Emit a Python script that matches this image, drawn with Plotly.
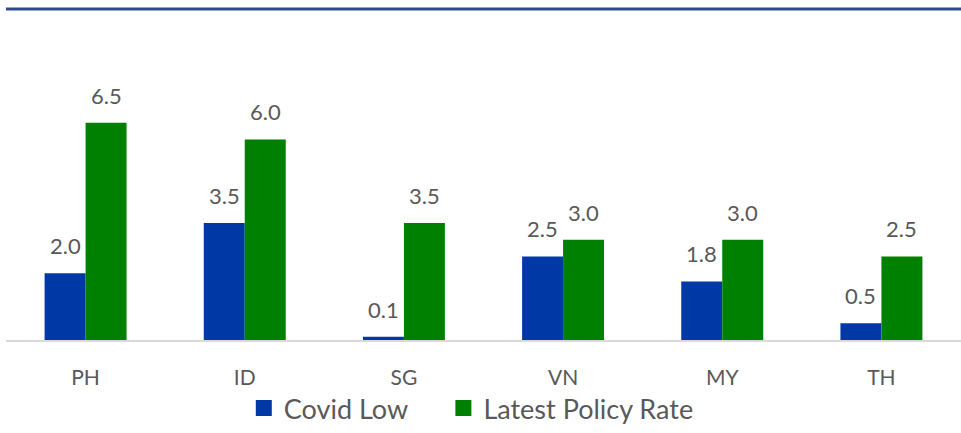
import plotly.graph_objects as go

categories = ["PH", "ID", "SG", "VN", "MY", "TH"]
covid_low = [2.0, 3.5, 0.1, 2.5, 1.75, 0.5]
latest_rate = [6.5, 6.0, 3.5, 3.0, 3.0, 2.5]
series_names = ["Covid Low", "Latest Policy Rate"]
series_colors = ["#0039A6", "#008000"]

FONT = "Lato, Carlito, Calibri, sans-serif"
TXT = "#595959"

fig = go.Figure()
for name, vals, col in zip(series_names, [covid_low, latest_rate], series_colors):
    fig.add_trace(go.Bar(x=categories, y=vals, name=name, marker_color=col,
                         marker_line_width=0, showlegend=False, hoverinfo="x+y"))
# legend proxies with larger square swatches, each in its own legend box
for name, col, lg in zip(series_names, series_colors, ["legend", "legend2"]):
    fig.add_trace(go.Scatter(x=[None], y=[None], mode="markers", name=name, legend=lg,
                             marker=dict(symbol="square", size=18, color=col)))

# data labels
bar_px = 41
annotations = []
for vals, sh in [(covid_low, -bar_px / 2), (latest_rate, bar_px / 2)]:
    for c, v in zip(categories, vals):
        annotations.append(dict(x=c, y=v, xref="x", yref="y", text=f"{v:.1f}",
                                showarrow=False, xshift=sh, yshift=12, yanchor="bottom",
                                font=dict(size=22, color=TXT, family=FONT)))

leg_common = dict(orientation="h", y=-0.207, yanchor="middle", xanchor="left",
                  bgcolor="rgba(0,0,0,0)", itemsizing="trace",
                  font=dict(size=27, color=TXT, family=FONT))

fig.update_layout(
    width=961, height=433,
    margin=dict(l=6, r=0, t=9, b=81),
    paper_bgcolor="white", plot_bgcolor="white",
    barmode="group", bargap=0.485, bargroupgap=0,
    font=dict(family=FONT, color=TXT, size=20),
    showlegend=True,
    legend=dict(x=0.249, **leg_common),
    legend2=dict(x=0.458, **leg_common),
    xaxis=dict(showgrid=False, showline=True, linecolor="#D9D9D9", linewidth=1.5,
               ticks="", tickfont=dict(size=21, color=TXT), ticklabelstandoff=18),
    yaxis=dict(range=[0, 9.9], visible=False),
    annotations=annotations,
    shapes=[dict(type="line", xref="paper", yref="paper", x0=0, x1=1, y0=1, y1=1,
                 line=dict(color="#2E4A8F", width=3))],
)

fig.write_html("out.html", config={"displayModeBar": False},
               post_script="document.body.style.margin='0';")
